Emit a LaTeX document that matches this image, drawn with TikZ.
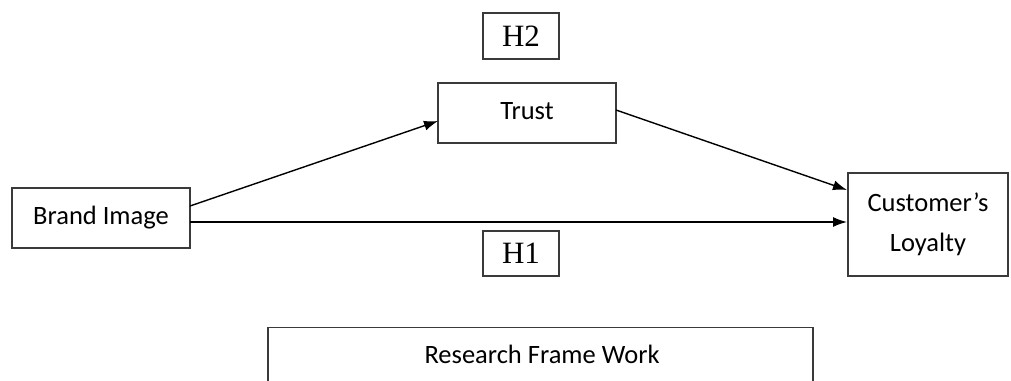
\documentclass[tikz,border=0pt]{standalone}
\usepackage{fontspec}
\setmainfont{Carlito}
\newfontfamily\serifh{Liberation Serif}
\usetikzlibrary{arrows.meta}
\definecolor{edge}{HTML}{3A3A3A}
\tikzset{
  boxn/.style={draw=edge, line width=1.4pt, inner sep=0pt, font=\fontsize{26.5}{30}\selectfont, align=center},
  hbox/.style={draw=edge, line width=1.4pt, inner sep=0pt, font=\serifh\fontsize{31}{34}\selectfont},
  arr/.style={line width=1.4pt, -{Latex[length=14pt,width=10pt]}}
}
\begin{document}
\begin{tikzpicture}[x=1pt,y=-1pt]
\useasboundingbox (0,0) rectangle (1011,380);
\node[boxn, minimum width=178pt, minimum height=60pt] (brand) at (101,218) {Brand Image};
\node[boxn, minimum width=178pt, minimum height=60pt] (trust) at (527,113) {\raisebox{4pt}{Trust}};
\node[boxn, minimum width=160pt, minimum height=103pt] (loyal) at (928,224.5) {\raisebox{3pt}{Customer’s}\\[7pt]Loyalty};
\node[hbox, minimum width=76pt, minimum height=46pt] (h2) at (521,36) {H2};
\node[hbox, minimum width=76pt, minimum height=45pt] (h1) at (521,253.5) {H1};
\node[boxn, minimum width=545pt, minimum height=60pt, anchor=north] (rfw) at (540.5,327) {};
\node[font=\fontsize{26.5}{30}\selectfont] (rfwt) at (542,354) {Research Frame Work};
\coordinate (a1s) at (190,206);
\coordinate (a1e) at (438,121);
\coordinate (a2s) at (190,222);
\coordinate (a2e) at (847,222);
\coordinate (a3s) at (616,110);
\coordinate (a3e) at (847,190);
\draw[arr] (a1s) -- (a1e);
\draw[arr] (a2s) -- (a2e);
\draw[arr] (a3s) -- (a3e);
\end{tikzpicture}
\end{document}
